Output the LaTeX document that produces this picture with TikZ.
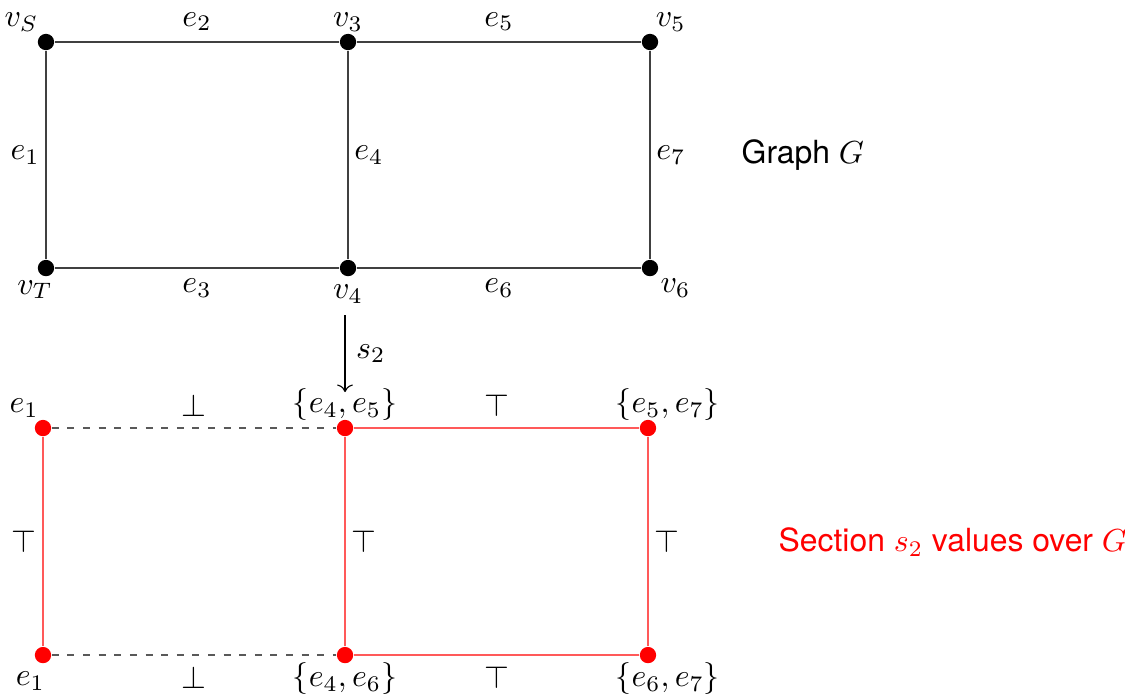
\documentclass[tikz,border=0pt]{standalone}
\usepackage{amsmath, amssymb}
\usepackage{fontspec}
\usepackage{tikz}
\usetikzlibrary{positioning, arrows.meta}
\newfontfamily\heros{TeX Gyre Heros}

\begin{document}
\begin{tikzpicture}[
        % vertex styles
        vertex/.style={
            circle,
            fill=black,
            inner sep=0pt,
            minimum size=0.18cm
        },
        secvertex/.style={
            vertex,
            fill=red
        },
        % edge styles
        edge/.style={
            draw=black!75,
            line width=0.35pt
        },
        secedge/.style={
            draw=red!65,
            line width=0.4pt
        },
        falseedge/.style={
            draw=black!65,
            line width=0.4pt,
            dash pattern=on 2.2pt off 2.7pt
        },
        % side labels of vertical edges
        side/.style={
            inner sep=1.8pt
        },
        % caption text
        caption_text/.style={
            font=\heros,
            anchor=west,
            inner sep=0pt
        }
    ]

    \useasboundingbox (0,0) rectangle (12.403,-7.707);

    % 1. graph G
    \node[vertex, label={[label distance=-3pt, xshift=1pt]135:$v_S$}] (vS) at (0.507,-0.463) {};
    \node[vertex, label={[label distance=-3pt]above:$v_3$}] (v3) at (3.837,-0.463) {};
    \node[vertex, label={[label distance=-3pt, xshift=-1.5pt]45:$v_5$}] (v5) at (7.166,-0.463) {};
    \node[vertex, label={[label distance=-3pt, xshift=5.5pt, yshift=-0.5pt]225:$v_T$}] (vT) at (0.507,-2.955) {};
    \node[vertex, label={[label distance=-1pt]below:$v_4$}] (v4) at (3.837,-2.955) {};
    \node[vertex, label={[label distance=-3pt]-45:$v_6$}] (v6) at (7.166,-2.955) {};

    \draw[edge] (vS) -- node[left, side] {$e_1$} (vT);
    \draw[edge] (vS) -- node[above] {$e_2$} (v3);
    \draw[edge] (vT) -- node[below] {$e_3$} (v4);
    \draw[edge] (v3) -- node[right, side] {$e_4$} (v4);
    \draw[edge] (v3) -- node[above] {$e_5$} (v5);
    \draw[edge] (v4) -- node[below] {$e_6$} (v6);
    \draw[edge] (v5) -- node[right, side] {$e_7$} (v6);

    \node[caption_text] (graph) at (8.170,-1.709) {Graph $G$};

    % 2. section s_2
    \node[secvertex, label={[label distance=-3pt, xshift=2pt]135:$e_1$}] (tl) at (0.474,-4.719) {};
    \node[secvertex, label={[label distance=-4pt]above:$\{e_4,e_5\}$}] (tm) at (3.804,-4.719) {};
    \node[secvertex, label={[label distance=-4pt, xshift=6.2pt]above:$\{e_5,e_7\}$}] (tr) at (7.144,-4.719) {};
    \node[secvertex, label={[label distance=-3pt, xshift=4pt, yshift=-2pt]225:$e_1$}] (bl) at (0.474,-7.222) {};
    \node[secvertex, label={[label distance=-4pt]below:$\{e_4,e_6\}$}] (bm) at (3.804,-7.222) {};
    \node[secvertex, label={[label distance=-4pt, xshift=6.2pt]below:$\{e_6,e_7\}$}] (br) at (7.144,-7.222) {};

    \draw[secedge] (tl) -- node[left, side] {$\top$} (bl);
    \draw[falseedge] (tl) -- node[above] {$\bot$} (tm);
    \draw[falseedge] (bl) -- node[below] {$\bot$} (bm);
    \draw[secedge] (tm) -- node[right, side] {$\top$} (bm);
    \draw[secedge] (tm) -- node[above] {$\top$} (tr);
    \draw[secedge] (bm) -- node[below] {$\top$} (br);
    \draw[secedge] (tr) -- node[right, side] {$\top$} (br);

    \node[caption_text, text=red] (section) at (8.578,-5.976) {Section $s_2$ values over $G$};

    % 3. map s_2 from G to the section
    \coordinate (mapstart) at (3.804,-3.473);
    \coordinate (mapend) at (3.804,-4.322);
    \draw[->, line width=0.35pt] (mapstart) -- node[right] {$s_2$} (mapend);

\end{tikzpicture}
\end{document}
